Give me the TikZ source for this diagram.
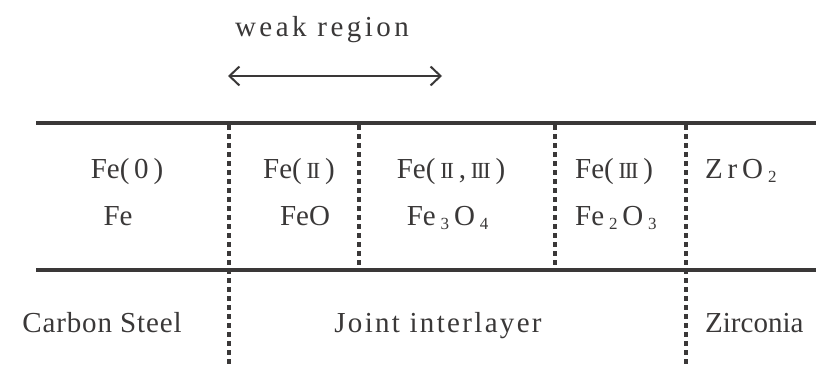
\documentclass[tikz,border=0pt]{standalone}
\usepackage{fontspec}
\setmainfont{Liberation Serif}
\newfontfamily\wideA[LetterSpace=12]{Liberation Serif}
\newfontfamily\wideB[LetterSpace=8]{Liberation Serif}
\newfontfamily\wideC[LetterSpace=3]{Liberation Serif}
\usetikzlibrary{arrows.meta}
\definecolor{ink}{HTML}{3A3838}
\newcommand{\rmII}{{\fontsize{23}{27}\selectfont I\kern-0.07em I}}
\newcommand{\rmIII}{{\fontsize{23}{27}\selectfont I\kern-0.07em I\kern-0.07em I}}
\newcommand{\sbs}[1]{\,\raisebox{-0.15em}{\fontsize{17}{20}\selectfont #1}\,}
\begin{document}
\begin{tikzpicture}[x=1pt,y=-1pt,
  txt/.style={inner sep=0pt,text=ink,font=\fontsize{29}{34}\selectfont},
  wtxt/.style={inner sep=0pt,text=ink,font=\wideA\fontsize{29}{34}\selectfont},
  solidline/.style={draw=ink,line width=3.4pt},
  dotline/.style={draw=ink,line width=3.2pt,dash pattern=on 5pt off 4pt},
  weakarrow/.style={draw=ink,line width=2pt,{Straight Barb[length=10pt,width=19pt]}-{Straight Barb[length=10pt,width=19pt]}}]
\useasboundingbox[fill=white] (0,0) rectangle (816,364);
% weak region
\node[wtxt,anchor=base] (weak) at (322,36) {weak region};
\coordinate (wa) at (228,76);
\coordinate (wb) at (442,76);
\draw[weakarrow] (wa) -- (wb);
% horizontal lines
\coordinate (tl) at (36,123);
\coordinate (tr) at (816,123);
\coordinate (ml) at (36,270);
\coordinate (mr) at (816,270);
\draw[solidline] (tl) -- (tr);
\draw[solidline] (ml) -- (mr);
% dotted separators
\coordinate (d1t) at (229,125); \coordinate (d1b) at (229,364);
\coordinate (d2t) at (359,125); \coordinate (d2b) at (359,270);
\coordinate (d3t) at (555,125); \coordinate (d3b) at (555,270);
\coordinate (d4t) at (686,125); \coordinate (d4b) at (686,364);
\draw[dotline] (d1t) -- (d1b);
\draw[dotline] (d2t) -- (d2b);
\draw[dotline] (d3t) -- (d3b);
\draw[dotline] (d4t) -- (d4b);
% upper row
\node[txt,anchor=base] (fe0) at (127,178) {Fe(\,0\,)};
\node[txt,anchor=base] (fe) at (118,225) {Fe};
\node[txt,anchor=base] (fe2) at (299,178) {Fe(\,\rmII\,)};
\node[txt,anchor=base] (feo) at (305,225) {FeO};
\node[txt,anchor=base] (fe23) at (451,178) {Fe(\,\rmII\,,\,\rmIII\,)};
\node[txt,anchor=base] (fe3o4) at (450,225) {Fe\sbs{3}O\sbs{4}};
\node[txt,anchor=base west] (fe3) at (575,178) {Fe(\,\rmIII\,)};
\node[txt,anchor=base west] (fe2o3) at (575,225) {Fe\sbs{2}O\sbs{3}};
\node[txt,anchor=base west] (zro2) at (705,178) {Z\,r\,O\sbs{2}};
% lower row
\node[txt,anchor=base,font=\wideC\fontsize{29}{34}\selectfont] (cs) at (102,332) {Carbon Steel};
\node[txt,anchor=base,font=\wideB\fontsize{29}{34}\selectfont] (ji) at (438,332) {Joint interlayer};
\node[txt,anchor=base west] (zr) at (705,332) {Zirconia};
\end{tikzpicture}
\end{document}
